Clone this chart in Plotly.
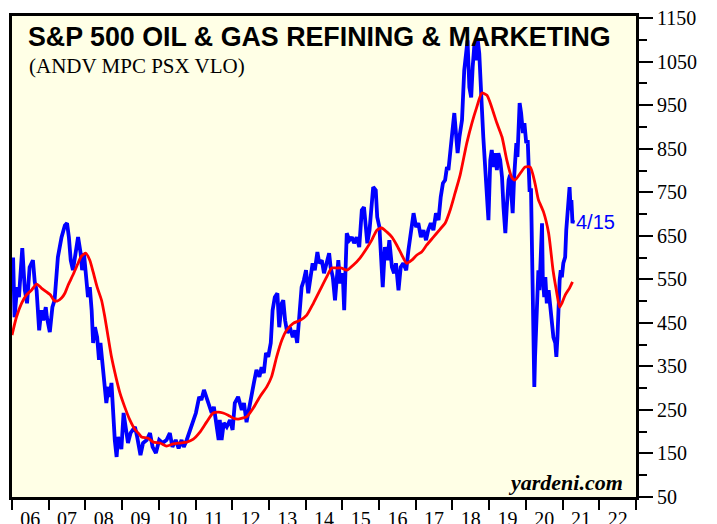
import plotly.graph_objects as go

# ---- data (decimal years) ----
index_years = [
    2006.01, 2006.03, 2006.07, 2006.14, 2006.19, 2006.28, 2006.35, 2006.41, 2006.48, 2006.57,
    2006.62, 2006.67, 2006.74, 2006.80, 2006.85, 2006.92, 2006.95, 2007.03, 2007.10, 2007.16,
    2007.25, 2007.35, 2007.44, 2007.50, 2007.55, 2007.60, 2007.66, 2007.74, 2007.80, 2007.87,
    2007.91, 2007.96, 2008.01, 2008.07, 2008.12, 2008.17, 2008.21, 2008.26, 2008.32, 2008.37,
    2008.41, 2008.47, 2008.53, 2008.57, 2008.63, 2008.66, 2008.71, 2008.75, 2008.80, 2008.85,
    2008.89, 2008.94, 2008.98, 2009.04, 2009.10, 2009.16, 2009.23, 2009.30, 2009.35, 2009.41,
    2009.50, 2009.57, 2009.67, 2009.76, 2009.83, 2009.92, 2010.01, 2010.10, 2010.21, 2010.30,
    2010.37, 2010.46, 2010.54, 2010.62, 2010.68, 2010.76, 2010.85, 2010.94, 2011.01, 2011.10,
    2011.16, 2011.23, 2011.30, 2011.37, 2011.44, 2011.50, 2011.57, 2011.63, 2011.66, 2011.71,
    2011.77, 2011.85, 2011.94, 2012.01, 2012.07, 2012.16, 2012.26, 2012.32, 2012.39, 2012.46,
    2012.53, 2012.59, 2012.66, 2012.74, 2012.80, 2012.86, 2012.92, 2012.98, 2013.05, 2013.10,
    2013.16, 2013.23, 2013.28, 2013.35, 2013.39, 2013.44, 2013.50, 2013.57, 2013.65, 2013.71,
    2013.77, 2013.83, 2013.89, 2013.95, 2014.01, 2014.07, 2014.14, 2014.19, 2014.25, 2014.32,
    2014.37, 2014.44, 2014.50, 2014.57, 2014.64, 2014.68, 2014.74, 2014.80, 2014.85, 2014.89,
    2014.94, 2015.01, 2015.05, 2015.12, 2015.19, 2015.26, 2015.32, 2015.39, 2015.46, 2015.53,
    2015.59, 2015.65, 2015.68, 2015.74, 2015.80, 2015.84, 2015.91, 2015.95, 2016.01, 2016.05,
    2016.10, 2016.16, 2016.23, 2016.28, 2016.35, 2016.41, 2016.46, 2016.53, 2016.59, 2016.66,
    2016.74, 2016.80, 2016.86, 2016.94, 2017.01, 2017.07, 2017.14, 2017.21, 2017.28, 2017.34,
    2017.41, 2017.48, 2017.55, 2017.62, 2017.68, 2017.74, 2017.80, 2017.85, 2017.89, 2017.96,
    2018.01, 2018.05, 2018.09, 2018.14, 2018.19, 2018.26, 2018.32, 2018.37, 2018.41, 2018.46,
    2018.51, 2018.55, 2018.60, 2018.65, 2018.69, 2018.73, 2018.77, 2018.80, 2018.84, 2018.89,
    2018.94, 2018.98, 2019.03, 2019.07, 2019.12, 2019.16, 2019.21, 2019.25, 2019.30, 2019.35,
    2019.39, 2019.44, 2019.48, 2019.53, 2019.57, 2019.64, 2019.68, 2019.74, 2019.77, 2019.83,
    2019.87, 2019.92, 2019.96, 2020.01, 2020.05, 2020.10, 2020.14, 2020.16, 2020.19, 2020.21,
    2020.23, 2020.25, 2020.28, 2020.32, 2020.34, 2020.37, 2020.41, 2020.44, 2020.46, 2020.50,
    2020.53, 2020.57, 2020.62, 2020.66, 2020.71, 2020.75, 2020.80, 2020.83, 2020.86, 2020.89,
    2020.92, 2020.95, 2020.98, 2021.02, 2021.07, 2021.10, 2021.13, 2021.16, 2021.19, 2021.22,
    2021.24, 2021.27, 2021.29,
]
index_values = [
    575, 600, 463, 532, 509, 622, 525, 495, 578, 594,
    544, 525, 433, 479, 456, 486, 463, 429, 486, 502,
    601, 647, 674, 679, 647, 594, 571, 624, 647, 610,
    571, 610, 571, 509, 532, 479, 404, 440, 417, 365,
    404, 348, 312, 266, 303, 280, 312, 250, 181, 142,
    188, 174, 160, 243, 211, 174, 197, 205, 211, 188,
    146, 174, 181, 197, 165, 151, 181, 174, 181, 197,
    165, 181, 162, 181, 165, 181, 204, 227, 243, 280,
    273, 296, 277, 257, 243, 257, 211, 181, 227, 181,
    220, 211, 227, 204, 266, 280, 250, 266, 222, 257,
    280, 312, 342, 326, 348, 335, 381, 372, 404, 479,
    509, 518, 440, 495, 502, 456, 427, 440, 417, 433,
    404, 463, 532, 548, 571, 518, 555, 587, 571, 613,
    587, 594, 564, 587, 610, 578, 555, 502, 564, 594,
    541, 564, 479, 656, 640, 647, 633, 647, 624, 709,
    716, 663, 633, 663, 716, 762, 755, 693, 670, 617,
    532, 624, 594, 640, 578, 564, 587, 525, 578, 587,
    571, 617, 656, 702, 670, 679, 647, 663, 640, 663,
    679, 663, 702, 686, 739, 771, 778, 808, 801, 870,
    900, 932, 886, 840, 877, 916, 1030, 1069, 1099, 991,
    968, 1037, 1092, 1053, 1099, 1069, 1014, 945, 877, 801,
    762, 686, 824, 847, 808, 840, 801, 840, 824, 785,
    716, 656, 716, 778, 790, 702, 785, 863, 831, 955,
    932, 886, 909, 863, 870, 755, 755, 633, 509, 372,
    303, 372, 433, 509, 571, 525, 601, 679, 555, 509,
    555, 495, 525, 495, 449, 417, 404, 372, 417, 509,
    548, 571, 555, 587, 601, 663, 693, 748, 762, 709,
    732, 679, 686,
]

ma_years = [
    2006.00, 2006.12, 2006.26, 2006.39, 2006.53, 2006.67, 2006.80, 2006.94, 2007.05, 2007.14,
    2007.23, 2007.35, 2007.44, 2007.53, 2007.66, 2007.80, 2007.89, 2008.01, 2008.12, 2008.21,
    2008.32, 2008.44, 2008.53, 2008.62, 2008.71, 2008.83, 2008.94, 2009.07, 2009.21, 2009.35,
    2009.46, 2009.53, 2009.71, 2009.85, 2010.03, 2010.21, 2010.39, 2010.57, 2010.76, 2010.94,
    2011.12, 2011.30, 2011.48, 2011.62, 2011.75, 2011.89, 2012.03, 2012.16, 2012.30, 2012.39,
    2012.57, 2012.75, 2012.94, 2013.07, 2013.21, 2013.35, 2013.48, 2013.66, 2013.85, 2014.03,
    2014.21, 2014.39, 2014.57, 2014.71, 2014.85, 2014.98, 2015.12, 2015.30, 2015.48, 2015.67,
    2015.80, 2015.94, 2016.07, 2016.21, 2016.35, 2016.48, 2016.62, 2016.75, 2016.89, 2017.03,
    2017.16, 2017.30, 2017.48, 2017.66, 2017.80, 2017.94, 2018.07, 2018.21, 2018.39, 2018.53,
    2018.66, 2018.80, 2018.94, 2019.07, 2019.21, 2019.35, 2019.48, 2019.61, 2019.70, 2019.85,
    2019.98, 2020.12, 2020.25, 2020.34, 2020.48, 2020.62, 2020.74, 2020.83, 2020.92, 2020.98,
    2021.07, 2021.19, 2021.27,
]
ma_values = [
    422, 463, 495, 514, 525, 539, 530, 521, 514, 502,
    500, 507, 518, 537, 560, 587, 603, 610, 594, 567,
    532, 502, 463, 417, 372, 326, 289, 257, 227, 205,
    195, 188, 185, 176, 174, 167, 172, 174, 176, 183,
    199, 222, 243, 245, 243, 238, 231, 229, 232, 234,
    254, 280, 303, 326, 372, 410, 433, 449, 456, 468,
    495, 525, 555, 576, 576, 576, 571, 583, 599, 622,
    640, 663, 668, 659, 647, 629, 606, 587, 594, 606,
    613, 629, 647, 665, 679, 710, 748, 790, 863, 909,
    945, 978, 973, 945, 909, 877, 824, 785, 778, 794,
    808, 808, 770, 733, 705, 656, 571, 525, 486, 495,
    514, 530, 544,
]

year_edges = list(range(2006, 2024))
year_mids = [y + 0.5 for y in range(2006, 2023)]
year_labels = ["%02d" % (y % 100) for y in range(2006, 2023)]
y_major = list(range(50, 1151, 100))
y_minor = list(range(100, 1101, 100))

TITLE = "S&P 500 OIL & GAS REFINING & MARKETING"
SUBTITLE = "(ANDV MPC PSX VLO)"
LAST_DATE = "4/15"

SANS = "Arial, 'Liberation Sans', sans-serif"
SERIF = "'Times New Roman', 'Liberation Serif', serif"

fig = go.Figure()
fig.add_trace(go.Scatter(x=index_years, y=index_values, mode="lines",
                         line=dict(color="#0000FF", width=3.8), hoverinfo="skip"))
fig.add_trace(go.Scatter(x=ma_years, y=ma_values, mode="lines",
                         line=dict(color="#FF0000", width=2.8, shape="spline", smoothing=0.6),
                         hoverinfo="skip"))

fig.update_layout(
    width=717, height=524,
    margin=dict(l=4, r=89, t=8, b=35),
    paper_bgcolor="white",
    plot_bgcolor="#FFFFE6",
    showlegend=False,
    xaxis=dict(
        range=[2006, 2023], showgrid=False, zeroline=False, automargin=False,
        showline=True, linecolor="black", linewidth=3, mirror=True,
        tickmode="array", tickvals=year_mids, ticktext=year_labels,
        ticks="outside", ticklen=2, tickcolor="rgba(0,0,0,0)",
        ticklabeloverflow="allow",
        tickfont=dict(family=SERIF, size=20, color="black"),
        minor=dict(tickmode="array", tickvals=year_edges, ticks="outside",
                   ticklen=10, tickwidth=2, tickcolor="black", showgrid=False),
    ),
    yaxis=dict(
        range=[50, 1155], side="right", showgrid=False, zeroline=False, automargin=False,
        showline=True, linecolor="black", linewidth=3, mirror=True,
        tickmode="array", tickvals=y_major,
        ticks="outside", ticklen=14, tickwidth=2, tickcolor="black",
        ticklabeloverflow="allow",
        tickfont=dict(family=SERIF, size=20, color="black"),
        minor=dict(tickmode="array", tickvals=y_minor, ticks="outside",
                   ticklen=8, tickwidth=2, tickcolor="black", showgrid=False),
    ),
    annotations=[
        dict(text="<b>" + TITLE + "</b>", xref="paper", yref="paper",
             x=0.022, y=0.956, xanchor="left", yanchor="middle", showarrow=False,
             font=dict(family=SANS, size=26.8, color="black")),
        dict(text=SUBTITLE, xref="paper", yref="paper",
             x=0.024, y=0.896, xanchor="left", yanchor="middle", showarrow=False,
             font=dict(family=SERIF, size=21, color="black")),
        dict(text="<b><i>yardeni.com</i></b>", xref="paper", yref="paper",
             x=0.983, y=0.031, xanchor="right", yanchor="middle", showarrow=False,
             font=dict(family=SERIF, size=22, color="black")),
        dict(text=LAST_DATE, xref="x", yref="y",
             x=2021.3, y=682, xanchor="left", yanchor="middle", showarrow=False,
             font=dict(family=SANS, size=20, color="#0000FF")),
    ],
)

fig.write_html("out.html")
